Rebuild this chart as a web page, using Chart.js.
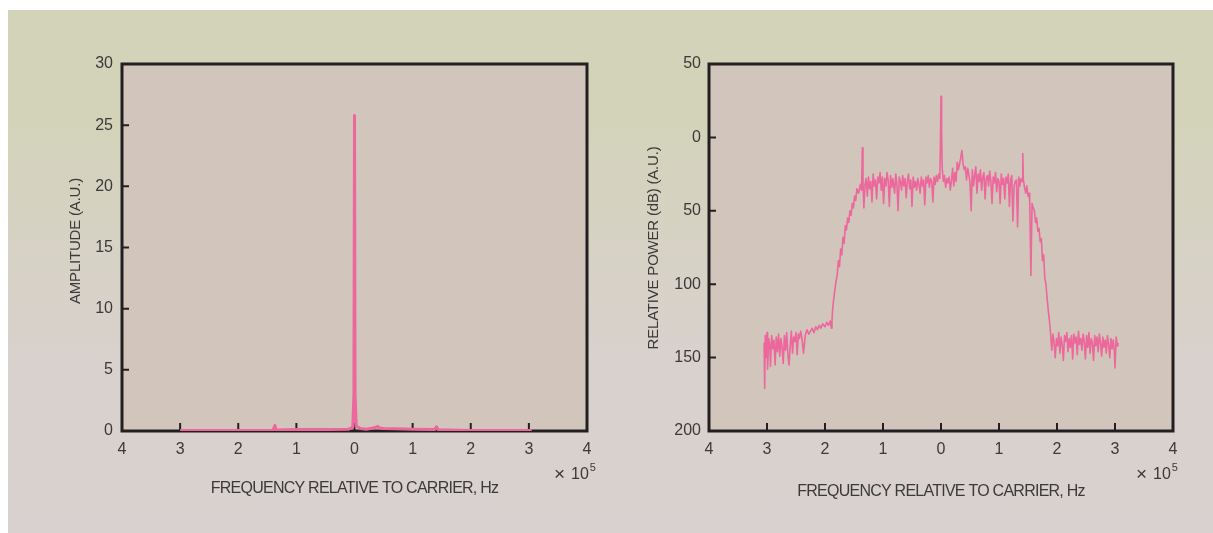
<!DOCTYPE html>
<html>
<head>
<meta charset="utf-8">
<script src="https://cdn.jsdelivr.net/npm/chart.js@4.4.1/dist/chart.umd.min.js"></script>
<style>
  html, body { margin: 0; padding: 0; background: #ffffff; }
  body { width: 1213px; height: 533px; position: relative; overflow: hidden; }
  #panel {
    position: absolute; left: 8px; top: 10px; width: 1205px; height: 523px;
    background: linear-gradient(#d3d3b9 0%, #d3d3ba 22%, #d7d2c6 48%, #d9d1cd 68%, #d9d1cf 100%);
  }
  canvas { position: absolute; top: 0; }
  #ampChart { left: 0; }
  #powerChart { left: 600px; }
</style>
</head>
<body>
<div id="panel">
  <canvas id="ampChart" width="600" height="523"></canvas>
  <canvas id="powerChart" width="605" height="523"></canvas>
</div>
<script>
// Left chart: amplitude spectrum (frequency in units of 1e5 Hz)
const freqLeft = [-3.00, -2.00, -1.40, -1.37, -1.35, -1.33, -1.00, -0.50, -0.10, -0.03,
                  -0.01, 0.00, 0.01, 0.03, 0.10, 0.20, 0.30, 0.37, 0.40, 0.43,
                  0.50, 0.70, 1.00, 1.38, 1.41, 1.44, 2.00, 3.05];
const ampLeft = [0.05, 0.05, 0.06, 0.45, 0.10, 0.08, 0.12, 0.12, 0.15, 0.30,
                 3.0, 25.8, 3.0, 0.40, 0.20, 0.15, 0.22, 0.30, 0.38, 0.25,
                 0.20, 0.18, 0.15, 0.12, 0.35, 0.10, 0.05, 0.05];

// Right chart: relative power in dB (plotted downward)
const freqRight = [
  -3.05, -3.04, -3.03, -3.02, -3.00, -2.99, -2.97, -2.95, -2.94, -2.92,
  -2.90, -2.88, -2.86, -2.84, -2.82, -2.80, -2.78, -2.76, -2.74, -2.72,
  -2.70, -2.68, -2.66, -2.64, -2.62, -2.60, -2.58, -2.56, -2.54, -2.52,
  -2.50, -2.48, -2.46, -2.44, -2.42, -2.40, -2.37, -2.34, -2.31, -2.28,
  -2.25, -2.22, -2.19, -2.16, -2.13, -2.10, -2.07, -2.04, -2.00, -1.97,
  -1.94, -1.91, -1.89, -1.88,
  -1.87, -1.85, -1.83, -1.81, -1.79, -1.77, -1.75, -1.73, -1.71, -1.69,
  -1.67, -1.65, -1.63, -1.61, -1.59, -1.57, -1.55, -1.53, -1.51, -1.49,
  -1.47, -1.45, -1.42, -1.39, -1.37, -1.355, -1.345, -1.33,
  -1.31, -1.29, -1.27, -1.25, -1.23, -1.21, -1.19, -1.17, -1.15, -1.13,
  -1.11, -1.09, -1.07, -1.05, -1.03, -1.01, -0.99, -0.97, -0.95, -0.93,
  -0.91, -0.89, -0.87, -0.85, -0.83, -0.80, -0.78, -0.76, -0.74, -0.72,
  -0.70, -0.68, -0.66, -0.64, -0.62, -0.60, -0.58, -0.56, -0.54, -0.52,
  -0.50, -0.48, -0.46, -0.44, -0.42, -0.40, -0.38, -0.36, -0.34, -0.32,
  -0.30, -0.28, -0.26, -0.24, -0.22, -0.20, -0.18, -0.16, -0.14, -0.12,
  -0.10, -0.08, -0.06, -0.04, -0.02, -0.01, 0.00, 0.01, 0.02,
  0.04, 0.06, 0.08, 0.10, 0.12, 0.14, 0.16, 0.18, 0.20, 0.22,
  0.24, 0.26, 0.28, 0.30, 0.32, 0.34, 0.36, 0.38, 0.40, 0.42,
  0.44, 0.46, 0.48, 0.50, 0.52, 0.54, 0.56, 0.58, 0.60, 0.62,
  0.64, 0.66, 0.68, 0.70, 0.72, 0.74, 0.76, 0.78, 0.80, 0.82,
  0.84, 0.86, 0.88, 0.90, 0.92, 0.94, 0.96, 0.98, 1.00, 1.02,
  1.04, 1.06, 1.08, 1.10, 1.12, 1.14, 1.16, 1.18, 1.20, 1.22,
  1.24, 1.26, 1.28, 1.30, 1.32, 1.34, 1.36, 1.38, 1.40, 1.41,
  1.42, 1.44, 1.46, 1.48, 1.50,
  1.52, 1.53, 1.55, 1.57, 1.59, 1.61, 1.63, 1.65, 1.67, 1.69,
  1.71, 1.73, 1.75, 1.77, 1.79, 1.81, 1.83, 1.85, 1.87, 1.89,
  1.91, 1.93, 1.95, 1.97, 1.99, 2.01, 2.03, 2.05, 2.07, 2.09,
  2.11, 2.13, 2.15, 2.17, 2.19, 2.21, 2.23, 2.25, 2.27, 2.29,
  2.31, 2.33, 2.35, 2.37, 2.39, 2.41, 2.43, 2.45, 2.47, 2.49,
  2.51, 2.53, 2.55, 2.57, 2.59, 2.61, 2.63, 2.65, 2.67, 2.69,
  2.71, 2.73, 2.75, 2.77, 2.79, 2.81, 2.83, 2.85, 2.87, 2.89,
  2.91, 2.93, 2.95, 2.97, 2.99, 3.00, 3.02, 3.04, 3.05
];
const powerRight = [
  140, 171, 135, 150, 133, 158, 137, 142, 156, 135,
  144, 138, 155, 136, 146, 134, 149, 137, 143, 154,
  135, 145, 133, 148, 155, 142, 132, 147, 136, 139,
  133, 148, 134, 137, 132, 136, 147, 135, 131, 134,
  132, 130, 133, 129, 131, 128, 130, 127, 129, 126,
  128, 125, 130, 126,
  118, 110, 104, 98, 94, 84, 88, 76, 80, 68,
  72, 60, 63, 55, 58, 50, 53, 45, 48, 40,
  43, 35, 38, 32, 36, 7, 30, 48,
  32, 28, 40, 27, 35, 30, 44, 25, 33, 29,
  42, 27, 31, 24, 36, 27, 45, 28, 33, 24,
  30, 47, 26, 34, 28, 38, 25, 32, 50, 27,
  30, 36, 26, 33, 28, 41, 30, 25, 35, 29,
  47, 27, 34, 30, 36, 28, 32, 38, 27, 33,
  29, 46, 27, 31, 26, 34, 28, 30, 44, 27,
  32, 26, 30, 25, 28, 5, -28, -5, 20,
  30, 26, 34, 28, 31, 27, 36, 30, 21, 33,
  24, 30, 17, 22, 18, 14, 9, 18, 22, 20,
  29, 21, 25, 31, 50, 22, 33, 26, 20, 38,
  25, 30, 22, 36, 27, 24, 42, 28, 26, 33,
  23, 30, 45, 27, 31, 24, 37, 28, 30, 45,
  25, 32, 28, 42, 27, 31, 25, 47, 29, 26,
  57, 33, 30, 29, 61, 27, 33, 28, 30, 11,
  29, 34, 38, 33, 40,
  38, 44, 94, 45, 48, 50, 58, 55, 64, 62,
  71, 69, 84, 80, 96, 100, 110, 118, 125, 134,
  145, 134, 140, 150, 137, 142, 133, 147, 136, 141,
  152, 135, 139, 133, 146, 137, 143, 135, 151, 134,
  140, 136, 148, 132, 141, 137, 145, 134, 139, 151,
  135, 143, 133, 147, 137, 140, 152, 135, 142, 136,
  146, 134, 140, 149, 136, 143, 138, 147, 135, 141,
  150, 137, 144, 138, 146, 157, 136, 142, 140
];

const xTitle = 'FREQUENCY RELATIVE TO CARRIER, Hz';
const ampTitle = 'AMPLITUDE (A.U.)';
const powerTitle = 'RELATIVE POWER (dB) (A.U.)';

const INK = '#231f20';
const TEXT = '#3a3a3a';
const PINK = '#ec679b';
const FONT = '"Liberation Sans", Arial, sans-serif';

// plot fill, frame, inside tick marks and titles
const framePlugin = {
    id: 'frame',
    beforeDraw(chart, args, opts) {
        const { ctx, chartArea: a } = chart;
        ctx.save();
        ctx.fillStyle = '#d2c6bc';
        ctx.fillRect(a.left, a.top, a.right - a.left, a.bottom - a.top);
        ctx.restore();
    },
    beforeDatasetsDraw(chart, args, opts) {
        const { ctx, chartArea: a, scales } = chart;
        ctx.save();
        ctx.strokeStyle = INK;
        ctx.lineWidth = 3;
        ctx.strokeRect(a.left, a.top, a.right - a.left, a.bottom - a.top);

        ctx.lineWidth = 2;
        ctx.beginPath();
        scales.x.ticks.forEach(t => {
            if (t.value <= scales.x.min || t.value >= scales.x.max) return;
            const x = scales.x.getPixelForValue(t.value);
            ctx.moveTo(x, a.bottom);
            ctx.lineTo(x, a.bottom - 8);
        });
        scales.y.ticks.forEach(t => {
            if (t.value <= scales.y.min || t.value >= scales.y.max) return;
            const y = scales.y.getPixelForValue(t.value);
            ctx.moveTo(a.left, y);
            ctx.lineTo(a.left + 7, y);
        });
        ctx.stroke();

        // axis titles
        ctx.fillStyle = TEXT;
        ctx.textAlign = 'center';
        ctx.textBaseline = 'alphabetic';
        ctx.font = '16px ' + FONT;
        ctx.letterSpacing = '-0.75px';
        ctx.fillText(xTitle, (a.left + a.right) / 2, opts.xTitleY);

        ctx.letterSpacing = '-0.2px';
        ctx.font = '15px ' + FONT;
        ctx.save();
        ctx.translate(opts.yTitleX, opts.yTitleY);
        ctx.rotate(-Math.PI / 2);
        ctx.fillText(opts.yTitle, 0, 0);
        ctx.restore();

        // x 10^5 multiplier
        ctx.letterSpacing = '0px';
        ctx.textAlign = 'left';
        const mx = a.right + opts.multX;
        const my = opts.multY;
        ctx.font = '19px ' + FONT;
        ctx.fillText('\u00d7', mx - 1, my + 1);
        ctx.font = '16px ' + FONT;
        ctx.fillText('10', mx + 16, my);
        const w = ctx.measureText('10').width;
        ctx.font = '11px ' + FONT;
        ctx.fillText('5', mx + 17 + w, my - 8);
        ctx.restore();
    }
};

function baseOptions(yScale, frameOpts, padRight, yWidth, labelPad) {
    return {
        responsive: false,
        animation: false,
        events: [],
        layout: { padding: { left: 0, top: 54, right: padRight, bottom: 0 } },
        plugins: {
            legend: { display: false },
            tooltip: { enabled: false },
            frame: frameOpts
        },
        scales: {
            x: {
                type: 'linear',
                min: -4,
                max: 4,
                grid: { display: false, drawTicks: false },
                border: { display: false },
                ticks: {
                    stepSize: 1,
                    autoSkip: false,
                    maxRotation: 0,
                    padding: 9,
                    color: TEXT,
                    font: { family: FONT, size: 16 },
                    callback: v => Math.abs(v)
                },
                afterFit: s => { s.height = 102; }
            },
            y: Object.assign({
                grid: { display: false, drawTicks: false },
                border: { display: false },
                afterFit: s => { s.width = yWidth; }
            }, yScale, {
                ticks: Object.assign({
                    autoSkip: false,
                    padding: labelPad,
                    color: TEXT,
                    font: { family: FONT, size: 16 }
                }, yScale.ticks)
            })
        }
    };
}

new Chart(document.getElementById('ampChart'), {
    type: 'line',
    data: {
        datasets: [{
            data: freqLeft.map((f, i) => ({ x: f, y: ampLeft[i] })),
            borderColor: PINK,
            borderWidth: 3,
            pointRadius: 0,
            tension: 0,
            borderJoinStyle: 'round'
        }]
    },
    options: baseOptions(
        { min: 0, max: 30, ticks: { stepSize: 5 } },
        { xTitleY: 483, yTitle: ampTitle, yTitleX: 72, yTitleY: 231, multX: -32, multY: 469 },
        21, 114, 9
    ),
    plugins: [framePlugin]
});

new Chart(document.getElementById('powerChart'), {
    type: 'line',
    data: {
        datasets: [{
            data: freqRight.map((f, i) => ({ x: f, y: powerRight[i] })),
            borderColor: PINK,
            borderWidth: 1.6,
            pointRadius: 0,
            tension: 0,
            borderJoinStyle: 'round'
        }]
    },
    options: baseOptions(
        { min: -50, max: 200, reverse: true, ticks: { stepSize: 50, callback: v => Math.abs(v) } },
        { xTitleY: 486, yTitle: powerTitle, yTitleX: 50, yTitleY: 238, multX: -36, multY: 469 },
        40, 101, 8
    ),
    plugins: [framePlugin]
});
</script>
</body>
</html>
